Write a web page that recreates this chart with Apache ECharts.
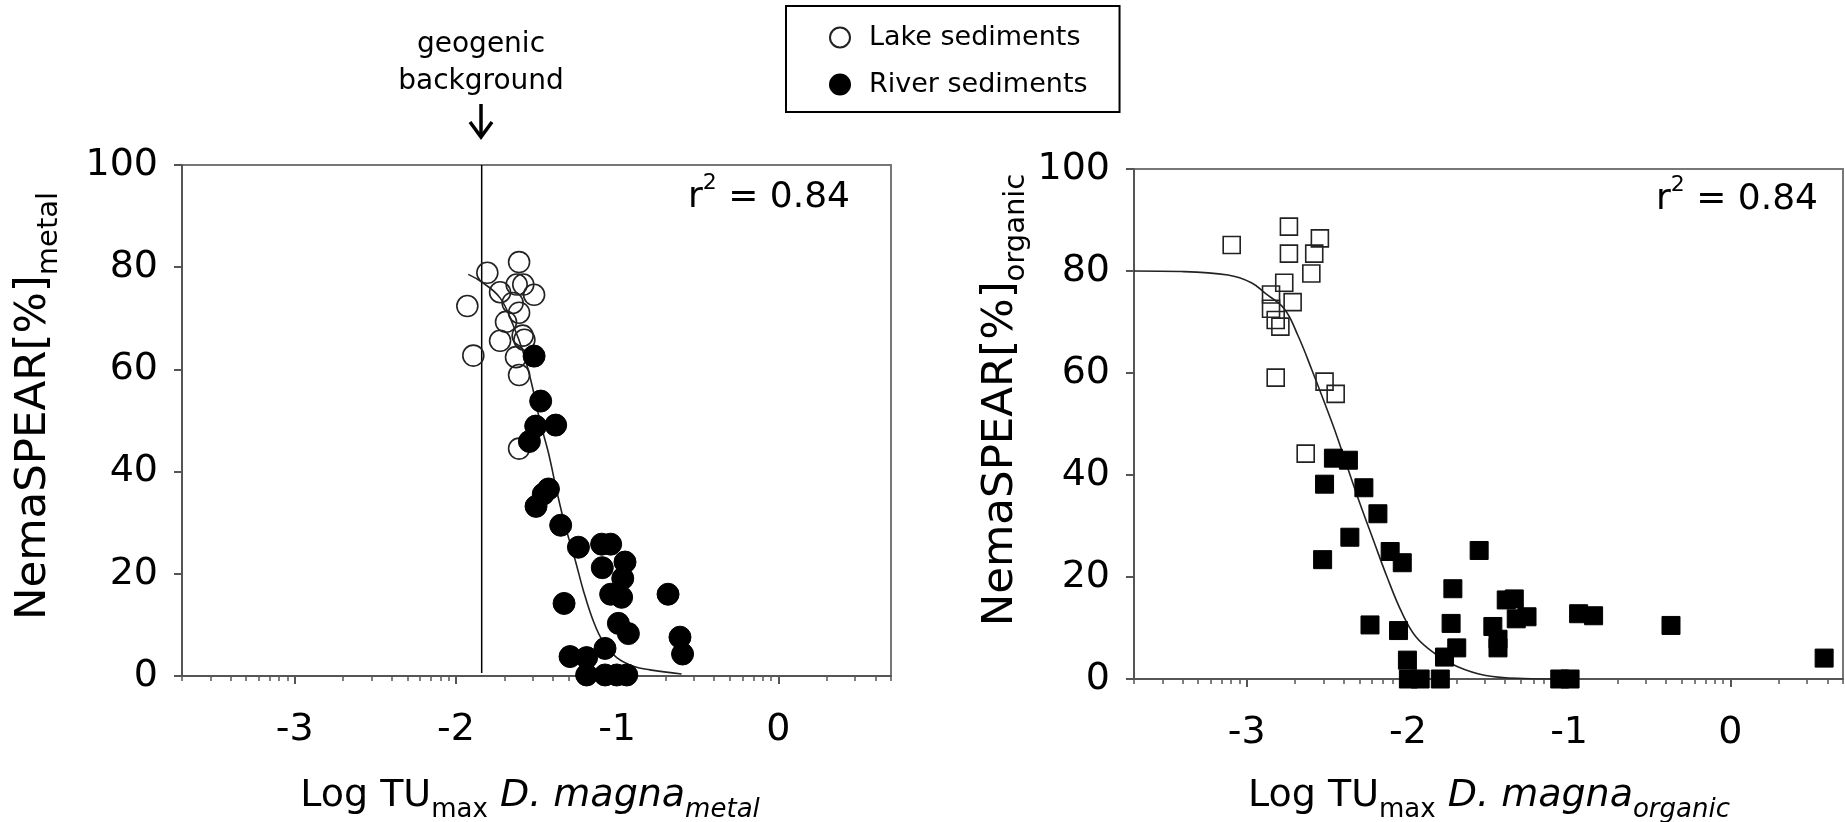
<!DOCTYPE html>
<html><head><meta charset="utf-8">
<script src="https://cdn.jsdelivr.net/npm/echarts@6/dist/echarts.min.js"></script>
<style>html,body{margin:0;padding:0;background:#fff}#c{width:1845px;height:822px}</style>
</head><body><div id="c"></div>
<script>
// ---------- data (x = log10 TUmax, y = NemaSPEAR %) ----------
const xTickValues = [-3, -2, -1, 0];
const yTickValues = [0, 20, 40, 60, 80, 100];
const xLogMin = -3.699;   // log10(0.0002)
const xLogMax = 0.699;    // log10(5)
const minorMultipliers = [2, 3, 4, 5, 6, 7, 8, 9];
const minorDecades = [-4, -3, -2, -1, 0];
const geogenicBackgroundX = -1.84;
const geogenicLineY = [0.6, 100];

const metalLake = [[-1.608,81.0],[-1.805,78.9],[-1.582,76.6],[-1.623,76.6],[-1.726,75.1],[-1.515,74.6],[-1.648,73.0],[-1.929,72.4],[-1.608,71.1],[-1.689,69.3],[-1.586,66.6],[-1.726,65.6],[-1.575,65.8],[-1.892,62.7],[-1.627,62.4],[-1.608,58.9],[-1.608,44.5]];
const metalRiver = [[-1.515,62.6],[-1.474,53.8],[-1.505,48.9],[-1.381,49.1],[-1.544,45.9],[-1.426,36.6],[-1.458,35.6],[-1.503,33.2],[-1.350,29.5],[-1.240,25.2],[-1.096,25.8],[-1.040,25.8],[-0.951,22.3],[-1.092,21.2],[-0.965,19.1],[-1.040,16.0],[-0.972,15.4],[-1.329,14.2],[-0.992,10.3],[-0.930,8.3],[-1.075,5.4],[-1.292,3.8],[-1.189,3.6],[-1.189,0.2],[-1.075,0.2],[-1.002,0.2],[-0.940,0.2],[-0.684,16.0],[-0.610,7.6],[-0.594,4.3]];
const metalFit = [[-1.923,78.6],[-1.840,77.1],[-1.726,74.0],[-1.644,68.6],[-1.582,63.3],[-1.530,57.2],[-1.478,49.8],[-1.426,43.7],[-1.375,36.3],[-1.323,29.5],[-1.261,22.8],[-1.209,16.7],[-1.147,10.7],[-1.085,6.6],[-1.002,3.6],[-0.899,1.9],[-0.796,1.2],[-0.600,0.4]];

const organicLake = [[-3.093,85.1],[-2.738,88.7],[-2.546,86.4],[-2.738,83.4],[-2.581,83.4],[-2.599,79.5],[-2.767,77.7],[-2.849,75.4],[-2.715,73.9],[-2.849,72.6],[-2.820,70.4],[-2.791,69.1],[-2.820,59.1],[-2.517,58.3],[-2.448,55.9],[-2.634,44.2]];
const organicRiver = [[-2.462,43.3],[-2.369,42.9],[-2.517,38.2],[-2.273,37.5],[-2.186,32.4],[-2.360,27.8],[-2.110,25.0],[-2.035,22.8],[-2.529,23.4],[-1.558,25.2],[-1.721,17.7],[-1.390,15.5],[-1.340,15.7],[-1.328,11.8],[-1.261,12.2],[-0.941,12.8],[-0.848,12.4],[-0.368,10.5],[0.582,4.1],[-2.235,10.6],[-2.058,9.5],[-1.732,10.9],[-1.473,10.3],[-1.441,7.8],[-1.441,6.1],[-1.697,6.1],[-1.773,4.3],[-2.003,3.7],[-1.997,0],[-1.924,0],[-1.799,0],[-1.058,0],[-0.994,0]];
const organicFit = [[-3.699,80.0],[-3.407,79.9],[-3.116,79.2],[-2.971,77.7],[-2.884,75.6],[-2.767,72.6],[-2.680,67.2],[-2.593,60.4],[-2.520,54.4],[-2.448,48.3],[-2.375,41.5],[-2.302,34.8],[-2.215,27.3],[-2.128,19.9],[-2.040,13.2],[-1.953,8.4],[-1.837,5.1],[-1.691,2.4],[-1.517,0.7],[-1.284,0.1],[-1.050,0]];

const r2Text = 'r² = 0.84';
// --------------------------------------------------------------

const FONT = 'DejaVu Sans';
const minorTickValues = [];
minorDecades.forEach(d => minorMultipliers.forEach(m => {
  const v = Math.log10(m) + d;
  if (v > xLogMin && v < xLogMax) minorTickValues.push(v);
}));

const AX = '#555';
function yAxis(g) {
  return { type:'value', gridIndex:g, min:0, max:100, interval:20, position:'left',
    axisLine:{show:true, onZero:false, lineStyle:{color:AX, width:2}},
    axisTick:{show:true, length:8, lineStyle:{color:AX, width:2}},
    axisLabel:{fontFamily:FONT, fontSize:38, color:'#000', margin:24,
      customValues: yTickValues},
    splitLine:{show:false} };
}
function xMajor(g) {
  return { type:'value', gridIndex:g, min:xLogMin, max:xLogMax, position:'bottom',
    axisLine:{show:true, onZero:false, lineStyle:{color:AX, width:2}},
    axisTick:{show:true, length:8, customValues:xTickValues, lineStyle:{color:AX, width:2}},
    axisLabel:{fontFamily:FONT, fontSize:38, color:'#000', margin:35, customValues:xTickValues,
      formatter: v => String(v)},
    splitLine:{show:false} };
}
function xMinor(g) {
  return { type:'value', gridIndex:g, min:xLogMin, max:xLogMax, position:'bottom',
    axisLine:{show:false, onZero:false},
    axisTick:{show:true, length:5, customValues:minorTickValues, lineStyle:{color:AX, width:1.5}},
    axisLabel:{show:false}, splitLine:{show:false} };
}

const hollow = {color:'rgba(255,255,255,0)', borderColor:'#222', borderWidth:1.6, opacity:1};
const solid = {color:'#000', borderColor:'#000', borderWidth:1, opacity:1};
const fitLine = {color:'#222', width:1.6};

function textEl(x, y, text, rich, rot) {
  return { type:'text', x, y, rotation: rot || 0, silent:true,
    style:{ text, rich, align:'center', verticalAlign:'middle', fill:'#000' } };
}
const titleRich = {
  a:{fontFamily:FONT, fontSize:38, lineHeight:46, verticalAlign:'top', fill:'#000'},
  i:{fontFamily:FONT, fontSize:38, lineHeight:46, verticalAlign:'top', fontStyle:'italic', fill:'#000'},
  s:{fontFamily:FONT, fontSize:26, lineHeight:26, padding:[20,0,0,0], verticalAlign:'bottom', fill:'#000'},
  si:{fontFamily:FONT, fontSize:26, lineHeight:26, padding:[20,0,0,0], verticalAlign:'bottom', fontStyle:'italic', fill:'#000'}
};
const yTitleRich = {
  a:{fontFamily:FONT, fontSize:43.5, lineHeight:52, verticalAlign:'top', fill:'#000'},
  s:{fontFamily:FONT, fontSize:29, lineHeight:29, padding:[22,0,0,0], verticalAlign:'bottom', fill:'#000'}
};
const r2Rich = {
  a:{fontFamily:FONT, fontSize:36, lineHeight:44, verticalAlign:'bottom', fill:'#000'},
  p:{fontFamily:FONT, fontSize:22, lineHeight:22, verticalAlign:'top', fill:'#000'}
};
const r2Parts = r2Text.split('²');

const option = {
  backgroundColor:'#fff',
  animation:false,
  grid:[
    {left:182, top:165, width:709, height:511, show:true, borderColor:'#777', borderWidth:2, backgroundColor:'transparent'},
    {left:1134, top:169, width:709, height:510, show:true, borderColor:'#777', borderWidth:2, backgroundColor:'transparent'}
  ],
  xAxis:[xMajor(0), xMinor(0), xMajor(1), xMinor(1)],
  yAxis:[yAxis(0), yAxis(1)],
  legend:{
    data:[{name:'Lake sediments', icon:'circle'}, {name:'River sediments', icon:'circle'}],
    orient:'vertical', left:786, top:6, itemWidth:20, itemHeight:20, itemGap:20,
    padding:[18, 32, 14, 43], borderColor:'#000', borderWidth:2, selectedMode:false,
    textStyle:{fontFamily:FONT, fontSize:27, color:'#000', lineHeight:20, padding:[0,0,0,14]}
  },
  series:[
    {name:'geogenic background', type:'line', xAxisIndex:0, yAxisIndex:0,
      data:geogenicLineY.map(y => [geogenicBackgroundX, y]), showSymbol:false, silent:true,
      lineStyle:{color:'#000', width:1.5}, z:2},
    {name:'Lake sediments', type:'scatter', xAxisIndex:0, yAxisIndex:0, symbol:'circle', symbolSize:21,
      itemStyle:hollow, data:metalLake, z:3},
    {name:'metal fit', type:'line', xAxisIndex:0, yAxisIndex:0, data:metalFit, smooth:0.4,
      showSymbol:false, lineStyle:fitLine, z:4},
    {name:'River sediments', type:'scatter', xAxisIndex:0, yAxisIndex:0, symbol:'circle', symbolSize:22,
      itemStyle:solid, data:metalRiver, z:5},
    {name:'Lake sediments', type:'scatter', xAxisIndex:2, yAxisIndex:1, symbol:'rect', symbolSize:[17,17],
      itemStyle:hollow, data:organicLake, z:3},
    {name:'organic fit', type:'line', xAxisIndex:2, yAxisIndex:1, data:organicFit, smooth:0.4,
      showSymbol:false, lineStyle:fitLine, z:4},
    {name:'River sediments', type:'scatter', xAxisIndex:2, yAxisIndex:1, symbol:'rect', symbolSize:[18,18],
      itemStyle:solid, data:organicRiver, z:5}
  ],
  graphic:[
    textEl(530, 800, '{a|Log TU}{s|max}{i| D. magna}{si|metal}', titleRich),
    textEl(1489, 800, '{a|Log TU}{s|max}{i| D. magna}{si|organic}', titleRich),
    textEl(38, 406, '{a|NemaSPEAR[%]}{s|metal}', yTitleRich, Math.PI/2),
    textEl(1005, 400, '{a|NemaSPEAR[%]}{s|organic}', yTitleRich, Math.PI/2),
    { type:'text', x:850, y:194, silent:true,
      style:{text:'{a|' + r2Parts[0] + '}{p|2}{a|' + r2Parts[1] + '}', rich:r2Rich, align:'right', verticalAlign:'middle'} },
    { type:'text', x:1818, y:196, silent:true,
      style:{text:'{a|' + r2Parts[0] + '}{p|2}{a|' + r2Parts[1] + '}', rich:r2Rich, align:'right', verticalAlign:'middle'} },
    { type:'text', x:481, y:45, silent:true,
      style:{text:'geogenic', font:'28px "DejaVu Sans"', fill:'#000', align:'center', verticalAlign:'middle'} },
    { type:'text', x:481, y:82, silent:true,
      style:{text:'background', font:'28px "DejaVu Sans"', fill:'#000', align:'center', verticalAlign:'middle'} },
    { type:'line', silent:true, shape:{x1:481, y1:104, x2:481, y2:135}, style:{stroke:'#000', lineWidth:3.5} },
    { type:'polyline', silent:true, shape:{points:[[470,122],[481,137],[492,122]]}, style:{stroke:'#000', lineWidth:3.5, fill:null} }
  ]
};

const chart = echarts.init(document.getElementById('c'), null, {renderer:'canvas'});
chart.setOption(option);
</script></body></html>
